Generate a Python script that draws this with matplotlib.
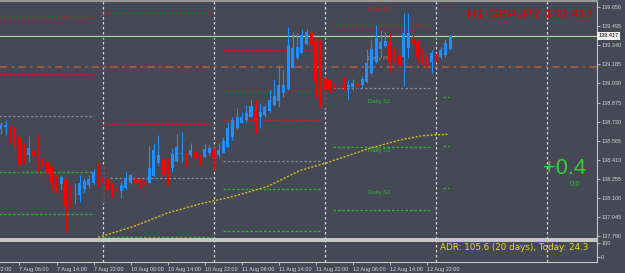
import numpy as np
import matplotlib.pyplot as plt

# H1 GBPJPY candles, bar index 0 = 7 Aug 06:00 (weekend skipped)
bar_idx = list(range(-4, 94))
opens = [138.660, 138.674, 138.679, 138.674, 138.593, 138.484, 138.449, 138.484, 138.468, 138.427,
         138.395, 138.349, 138.287, 138.214, 138.246, 138.143, 138.130, 138.125, 138.171, 138.206,
         138.224, 138.273, 138.268, 138.252, 138.206, 138.179, 138.159, 138.184, 138.224, 138.254,
         138.246, 138.238, 138.224, 138.281, 138.382, 138.417, 138.354, 138.346, 138.400, 138.457,
         138.463, 138.449, 138.471, 138.449, 138.430, 138.463, 138.490, 138.449, 138.468, 138.517,
         138.593, 138.666, 138.711, 138.733, 138.760, 138.809, 138.760, 138.774, 138.809, 138.855,
         138.890, 138.955, 138.985, 139.158, 139.234, 139.279, 139.350, 139.437, 139.369, 139.220,
         139.072, 139.058, 139.017, 139.009, 139.009, 138.999, 138.999, 139.025, 139.017, 139.044,
         139.117, 139.206, 139.307, 139.334, 139.369, 139.307, 139.253, 139.247, 139.320, 139.388,
         139.369, 139.307, 139.253, 139.206, 139.247, 139.242, 139.261, 139.307]
highs = [138.717, 138.733, 138.693, 138.679, 138.598, 138.547, 138.603, 138.577, 138.611, 138.435,
         138.409, 138.368, 138.290, 138.287, 138.260, 138.206, 138.224, 138.287, 138.260, 138.287,
         138.333, 138.395, 138.368, 138.327, 138.220, 138.232, 138.232, 138.314, 138.301, 138.314,
         138.260, 138.246, 138.522, 138.544, 138.611, 138.435, 138.422, 138.504, 138.620, 138.638,
         138.476, 138.549, 138.544, 138.455, 138.538, 138.530, 138.512, 138.544, 138.593, 138.719,
         138.760, 138.828, 138.801, 138.855, 138.896, 138.896, 138.869, 138.855, 138.977, 139.063,
         139.180, 139.139, 139.485, 139.450, 139.442, 139.469, 139.469, 139.469, 139.396, 139.382,
         139.085, 139.058, 139.031, 139.085, 139.080, 139.058, 139.063, 139.058, 139.090, 139.307,
         139.382, 139.504, 139.464, 139.450, 139.437, 139.328, 139.301, 139.599, 139.599, 139.490,
         139.382, 139.328, 139.274, 139.301, 139.274, 139.328, 139.388, 139.423]
lows = [138.620, 138.612, 138.547, 138.435, 138.301, 138.384, 138.395, 138.368, 138.314, 138.232,
        138.232, 138.165, 138.098, 138.165, 137.827, 138.017, 138.062, 138.070, 138.138, 138.179,
        138.214, 138.192, 138.057, 138.111, 138.111, 138.138, 138.098, 138.165, 138.214, 138.192,
        138.179, 138.090, 138.220, 138.273, 138.368, 138.206, 138.206, 138.314, 138.395, 138.395,
        138.354, 138.435, 138.368, 138.368, 138.422, 138.449, 138.327, 138.435, 138.463, 138.504,
        138.571, 138.658, 138.706, 138.719, 138.755, 138.630, 138.666, 138.760, 138.801, 138.847,
        138.836, 138.922, 138.977, 139.153, 139.226, 139.274, 139.342, 139.247, 138.909, 138.841,
        138.828, 138.950, 138.977, 138.990, 138.977, 138.900, 138.977, 138.977, 138.990, 139.031,
        139.106, 139.193, 139.247, 139.328, 139.125, 139.153, 139.125, 139.009, 139.234, 139.342,
        139.206, 139.180, 139.125, 139.112, 139.206, 139.226, 139.247, 139.301]
closes = [138.693, 138.693, 138.652, 138.512, 138.368, 138.431, 138.504, 138.444, 138.382, 138.349,
          138.301, 138.220, 138.143, 138.273, 138.035, 138.116, 138.133, 138.224, 138.241, 138.252,
          138.314, 138.224, 138.220, 138.165, 138.138, 138.159, 138.206, 138.260, 138.287, 138.224,
          138.228, 138.206, 138.346, 138.490, 138.449, 138.287, 138.333, 138.455, 138.512, 138.468,
          138.441, 138.490, 138.422, 138.417, 138.498, 138.504, 138.422, 138.490, 138.565, 138.666,
          138.733, 138.755, 138.760, 138.792, 138.847, 138.728, 138.801, 138.836, 138.896, 138.928,
          139.017, 139.017, 139.342, 139.315, 139.328, 139.423, 139.450, 139.342, 139.044, 138.922,
          138.977, 138.977, 138.990, 138.999, 138.990, 139.017, 139.036, 139.009, 139.063, 139.193,
          139.307, 139.401, 139.369, 139.377, 139.206, 139.198, 139.180, 139.442, 139.437, 139.350,
          139.247, 139.193, 139.161, 139.274, 139.220, 139.301, 139.360, 139.417]

# daily moving average (yellow dotted)
ma_idx = [17, 24.5, 32, 39, 46, 53.5, 60.6, 66, 71.4, 75.7, 82.2, 87.1, 92.5]
ma_val = [137.780, 137.867, 137.978, 138.052, 138.111, 138.192, 138.323, 138.382, 138.449,
          138.504, 138.571, 138.606, 138.617]

# daily pivot levels: (start bar, end bar, price, kind)
piv_start = [-5, -5, -5, -5, -5, 18, 18, 18, 19.5, 18, 44, 44, 44, 44, 44, 44,
             67.7, 67.7, 67.7, 67.7, 91.5, 91.5, 91.5, 91.5]
piv_end = [16, 16, 16, 16, 16, 41.6, 41.6, 41.6, 41.6, 41.6, 65, 65, 65, 65, 65, 65,
           89, 89, 89, 89, 92.8, 92.8, 92.8, 92.8]
piv_price = [139.569, 139.106, 138.766, 138.311, 137.970,
             139.602, 139.163, 138.701, 138.263, 137.784,
             139.301, 138.969, 138.733, 138.400, 138.173, 137.832,
             139.504, 138.993, 138.514, 138.003,
             139.658, 138.920, 138.521, 138.181]
piv_kind = ['R', 'R', 'P', 'S', 'S',
            'R', 'R', 'R', 'P', 'S',
            'R', 'R', 'R', 'P', 'S', 'S',
            'R', 'P', 'S', 'S',
            'R', 'S', 'S', 'S']

level_names = ['Daily R1', 'Daily PP', 'Daily S1', 'Daily S2', 'Daily S3']
level_y = [139.626, 139.236, 138.887, 138.484, 138.146]
level_kind = ['R', 'P', 'S', 'S', 'S']

day_sep = [18, 42, 66, 90, 114]
tick_idx = [0, 8, 16, 24, 32, 40, 48, 56, 64, 72, 80, 88]
tick_lbl = ['7 Aug 06:00', '7 Aug 14:00', '7 Aug 22:00', '10 Aug 06:00',
            '10 Aug 14:00', '10 Aug 22:00', '11 Aug 06:00', '11 Aug 14:00', '11 Aug 22:00',
            '12 Aug 06:00', '12 Aug 14:00', '12 Aug 22:00']
first_lbl = '6 Aug 22:00'   # sits left of the visible range, only its tail shows
price_ticks = ['137.790', '137.945', '138.100', '138.255', '138.410', '138.565', '138.720',
               '138.875', '139.030', '139.185', '139.340', '139.495', '139.650']

bid = 139.417
orange_level = 139.166

BG = '#454955'
FG = '#d4d4d4'
kind_col = {'R': '#d21a1a', 'P': '#8c8c8c', 'S': '#2fb52f'}
plt.rcParams['font.family'] = ['Liberation Sans', 'DejaVu Sans']

fig = plt.figure(figsize=(6.25, 2.73), dpi=100, facecolor=BG)
W, H = 625, 273
ax = fig.add_axes([0, 1 - 238.5 / H, 597 / W, (238.5 - 1) / H], facecolor=BG)
sub = fig.add_axes([0, 1 - 262 / H, 597 / W, (262 - 240.5) / H], facecolor=BG, sharex=ax)

# day separators
for d in day_sep:
    for a in (ax, sub):
        a.axvline(d, color='#d8d8d8', lw=0.9, ls=(0, (2, 2)), zorder=1)

# pivot lines
for s, e, p, k in zip(piv_start, piv_end, piv_price, piv_kind):
    ax.plot([s, e], [p, p], color=kind_col[k], lw=0.9, ls=(0, (2, 1.6)), zorder=2)

ax.axhline(orange_level, color='#a65a3e', lw=1.3, ls=(0, (4, 2.5, 1.2, 2.5)), zorder=2)

for name, y, k in zip(level_names, level_y, level_kind):
    ax.text(75.3, y, name, color=kind_col[k], fontsize=4.3, ha='left', va='center', zorder=3)

# moving average
ax.plot(ma_idx, ma_val, color='#d8b820', lw=1.0, ls=(0, (1.5, 1.2)), zorder=3)

# bid / ask lines
ax.axhline(bid, color='#c8c8c8', lw=0.9, zorder=2)
ax.axhline(bid - 0.009, color='#1f6b1f', lw=0.7, zorder=2)

# candles
o = np.array(opens); c = np.array(closes)
up = c >= o
cols = np.where(up, '#1e90ff', '#ff0000')
ax.vlines(bar_idx, lows, highs, colors=cols, lw=0.8, zorder=4)
body_h = np.maximum(np.abs(c - o), 0.002)
ax.bar(bar_idx, body_h, bottom=np.minimum(o, c), width=0.65, color=cols, zorder=5)

# axes styling
for a in (ax, sub):
    for sp in a.spines.values():
        sp.set_color('#c8c8c8')
    a.spines['left'].set_visible(False)
    a.tick_params(colors=FG, labelcolor=FG, length=2, width=0.6, labelsize=4,
                  left=False, labelleft=False, right=True, labelright=True, pad=1)
ax.spines['top'].set_linewidth(1.6)
ax.spines['top'].set_color('#9a9a9a')
ax.spines['bottom'].set_linewidth(1.4)
sub.spines['top'].set_linewidth(1.4)
ax.spines['right'].set_linewidth(0.8)
sub.spines['right'].set_linewidth(0.8)
sub.spines['bottom'].set_linewidth(0.8)

ax.set_yticks([float(t) for t in price_ticks])
ax.set_yticklabels(price_ticks)
ax.tick_params(axis='x', bottom=False, labelbottom=False)

sub.set_ylim(-36, 121)
sub.set_yticks([0, 100])
sub.set_yticklabels(['0', '100'])
sub.set_xticks(tick_idx)
sub.set_xticklabels(tick_lbl, ha='left')
sub.tick_params(axis='x', pad=1.5)

ax.set_xlim(-4.21, 124.73)
ax.set_ylim(137.771, 139.699)

# label of the bar just off the left edge
sub.text(-8, -0.35, first_lbl, transform=sub.get_xaxis_transform(), fontsize=4,
         color=FG, ha='left', va='center', clip_on=False)

# price box on the axis
ax.annotate(f'{bid:.3f}', xy=(1.0, bid), xycoords=('axes fraction', 'data'),
            xytext=(1.2, 0), textcoords='offset points', fontsize=4, color='black',
            ha='left', va='center',
            bbox=dict(boxstyle='square,pad=0.25', fc='#f2f2f2', ec='none'), zorder=10)

# text overlays
fig.text(467 / W, 1 - 15 / H, 'H1 GBPJPY 139.417', color='#e00000', fontsize=9.6,
         ha='left', va='center')
fig.text(543 / W, 1 - 168 / H, '+0.4', color='#33d033', fontsize=15.7, ha='left', va='center')
fig.text(570 / W, 1 - 184 / H, '0.0', color='#2fb52f', fontsize=5.7, ha='left', va='center')
fig.text(440 / W, 1 - 248 / H, 'ADR: 105.6 (20 days), Today: 24.3', color='#e8e000',
         fontsize=6.3, family='DejaVu Sans', ha='left', va='center')

fig.savefig('out.png', dpi=100, facecolor=BG)
